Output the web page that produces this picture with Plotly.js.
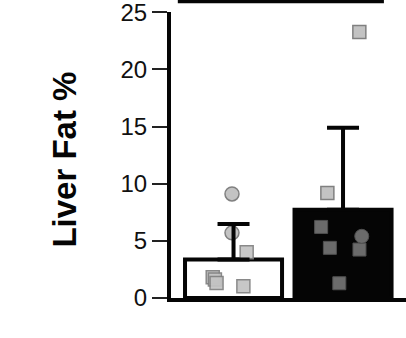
<!DOCTYPE html>
<html>
<head>
<meta charset="utf-8">
<script src="https://cdn.plot.ly/plotly-3.0.1.min.js"></script>
<style>html,body{margin:0;padding:0;background:#fff;}#chart{width:406px;height:338px;}</style>
</head>
<body>
<div id="chart"></div>
<script>
// Group means and upper SD
var groups = [0, 1];
var means = [3.37, 7.73];
var sdUpper = [3.1, 7.17];

// Individual points, group 1 (white bar)
var g1LightSqX = [0.12, -0.19, -0.17, -0.155, 0.09];
var g1LightSqY = [4.0, 1.82, 1.61, 1.32, 1.03];
var g1LightCircX = [-0.014, -0.014];
var g1LightCircY = [9.11, 5.70];

// Individual points, group 2 (black bar)
var g2LightSqX = [1.149, 0.857];
var g2LightSqY = [23.27, 9.2];
var g2DarkSqX = [0.80, 0.88, 1.15, 0.966];
var g2DarkSqY = [6.22, 4.39, 4.24, 1.29];
var g2DarkCircX = [1.171];
var g2DarkCircY = [5.4];

var yTicks = [0, 5, 10, 15, 20, 25];
var yTitle = 'Liver Fat %';

var lightFill = '#c3c3c3', lightLine = '#808080';
var darkFill = '#6b6b6b', darkLine = '#505050';

var traces = [
  {
    type: 'bar', x: groups, y: means, width: 0.886,
    marker: {color: ['#ffffff', '#050505'], line: {color: '#050505', width: 4}},
    hoverinfo: 'none'
  },
  {type: 'scatter', mode: 'markers', x: g1LightSqX, y: g1LightSqY,
   marker: {symbol: 'square', size: 13, color: lightFill, opacity: 0.92, line: {color: lightLine, width: 1.5}}},
  {type: 'scatter', mode: 'markers', x: g1LightCircX, y: g1LightCircY,
   marker: {symbol: 'circle', size: 14, color: lightFill, line: {color: lightLine, width: 1.5}}},
  {type: 'scatter', mode: 'markers', x: g2LightSqX, y: g2LightSqY,
   marker: {symbol: 'square', size: 13, color: lightFill, line: {color: lightLine, width: 1.5}}},
  {type: 'scatter', mode: 'markers', x: g2DarkSqX, y: g2DarkSqY,
   marker: {symbol: 'square', size: 13, color: darkFill, line: {color: darkLine, width: 1}}},
  {type: 'scatter', mode: 'markers', x: g2DarkCircX, y: g2DarkCircY,
   marker: {symbol: 'circle', size: 14, color: darkFill, line: {color: darkLine, width: 1}}},
  {
    type: 'scatter', mode: 'markers', x: groups, y: means,
    marker: {size: 1, color: 'rgba(0,0,0,0)'},
    error_y: {type: 'data', symmetric: false, array: sdUpper, arrayminus: [0, 0],
              color: '#050505', thickness: 4, width: 16},
    hoverinfo: 'none'
  }
];

var layout = {
  width: 406, height: 338,
  margin: {l: 171, r: 0, t: 12, b: 40},
  paper_bgcolor: '#ffffff', plot_bgcolor: '#ffffff',
  showlegend: false,
  font: {family: 'Liberation Sans, Arial, sans-serif', color: '#111'},
  xaxis: {
    range: [-0.571, 1.575], showgrid: false, zeroline: false,
    showticklabels: false, ticks: '',
    showline: true, linecolor: '#050505', linewidth: 4
  },
  yaxis: {
    range: [0, 25.03], tickvals: yTicks, ticktext: yTicks.map(String),
    showgrid: false, zeroline: false,
    ticks: 'outside', ticklen: 15, tickwidth: 2, tickcolor: '#222',
    tickfont: {size: 24, color: '#111'},
    ticklabeloverflow: 'allow',
    showline: true, linecolor: '#050505', linewidth: 4
  },
  annotations: [
    {text: yTitle, xref: 'paper', yref: 'paper', x: -0.457, y: 0.4825,
     xanchor: 'center', yanchor: 'middle', textangle: -90, showarrow: false,
     font: {size: 33, color: '#050505', family: 'Liberation Sans, Arial, sans-serif', weight: 'bold'}}
  ],
  shapes: [
    {type: 'line', xref: 'paper', yref: 'paper', x0: 0.029, x1: 0.906, y0: 1.038, y1: 1.038,
     line: {color: '#050505', width: 4}}
  ]
};

Plotly.newPlot('chart', traces, layout, {displayModeBar: false, staticPlot: true});
</script>
</body>
</html>
